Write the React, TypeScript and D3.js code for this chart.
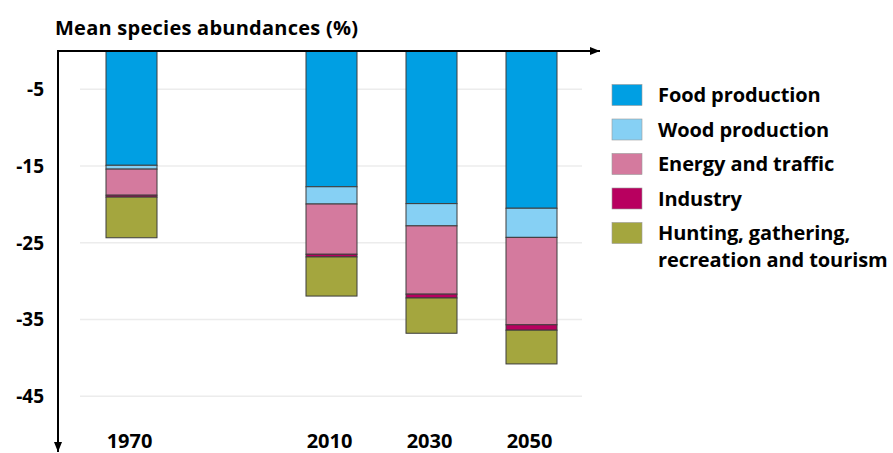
import React, { useEffect, useRef } from 'react';
import * as d3 from 'd3';

// years on a linear time axis
const years = [1970, 2010, 2030, 2050];

// change in mean species abundance by pressure (%)
const foodProduction = [-14.9, -17.7, -19.9, -20.5];
const woodProduction = [-0.5, -2.25, -2.9, -3.8];
const energyTraffic = [-3.4, -6.55, -8.9, -11.4];
const industry = [-0.25, -0.35, -0.5, -0.7];
const hunting = [-5.3, -5.1, -4.6, -4.4];

const seriesNames = [
  'Food production',
  'Wood production',
  'Energy and traffic',
  'Industry',
  'Hunting, gathering, recreation and tourism',
];
const seriesColors = ['#009fe3', '#86d0f4', '#d47a9e', '#b8005f', '#a4a63e'];
const yTicks = [-5, -15, -25, -35, -45];

const App: React.FC = () => {
  const svgRef = useRef<SVGSVGElement | null>(null);

  useEffect(() => {
    if (!svgRef.current) return;
    const width = 893;
    const height = 453;
    const font = '"Open Sans", Lato, sans-serif';
    const fontSize = 20;

    const svg = d3.select(svgRef.current)
      .attr('width', width)
      .attr('height', height);
    svg.selectAll('*').remove();

    const all = [foodProduction, woodProduction, energyTraffic, industry, hunting];
    const rows = years.map((year, i) => {
      const row: Record<string, number> = { year };
      seriesNames.forEach((name, s) => { row[name] = all[s][i]; });
      return row;
    });

    const stack = d3.stack<Record<string, number>>()
      .keys(seriesNames)
      .offset(d3.stackOffsetDiverging);
    const layers = stack(rows);

    const x = d3.scaleLinear().domain([1970, 2050]).range([131.5, 531.5]);
    const y = d3.scaleLinear().domain([0, -50]).range([51, 434.5]);
    const barWidth = 51;
    const axisX = 58;

    // gridlines
    svg.append('g')
      .selectAll('line')
      .data(yTicks)
      .join('line')
      .attr('x1', 80)
      .attr('x2', 582)
      .attr('y1', d => y(d))
      .attr('y2', d => y(d))
      .attr('stroke', '#ececec')
      .attr('stroke-width', 1.5);

    // stacked bars (negative values: d[0] is the lower edge)
    svg.append('g')
      .selectAll('g')
      .data(layers)
      .join('g')
      .attr('fill', (_, i) => seriesColors[i])
      .selectAll('rect')
      .data(d => d)
      .join('rect')
      .attr('x', d => x(d.data.year) - barWidth / 2)
      .attr('y', d => Math.min(y(d[0]), y(d[1])))
      .attr('width', barWidth)
      .attr('height', d => Math.abs(y(d[1]) - y(d[0])))
      .attr('stroke', '#3c3c3c')
      .attr('stroke-width', 1);

    // axes with arrows
    const defs = svg.append('defs');
    defs.append('marker')
      .attr('id', 'arrow')
      .attr('viewBox', '0 0 10 10')
      .attr('refX', 10)
      .attr('refY', 5)
      .attr('markerWidth', 10)
      .attr('markerHeight', 10)
      .attr('markerUnits', 'userSpaceOnUse')
      .attr('orient', 'auto')
      .append('path')
      .attr('d', 'M0,1 L10,5 L0,9 Z')
      .attr('fill', '#000');

    svg.append('line')
      .attr('x1', axisX - 1)
      .attr('x2', 600)
      .attr('y1', y(0))
      .attr('y2', y(0))
      .attr('stroke', '#000')
      .attr('stroke-width', 2)
      .attr('marker-end', 'url(#arrow)');
    svg.append('line')
      .attr('x1', axisX)
      .attr('x2', axisX)
      .attr('y1', y(0) - 1)
      .attr('y2', 452)
      .attr('stroke', '#000')
      .attr('stroke-width', 2)
      .attr('marker-end', 'url(#arrow)');

    // y tick labels
    svg.append('g')
      .selectAll('text')
      .data(yTicks)
      .join('text')
      .attr('x', 44)
      .attr('y', d => y(d))
      .attr('dy', '0.36em')
      .attr('text-anchor', 'end')
      .attr('font-family', font)
      .attr('font-weight', 700)
      .attr('font-size', fontSize - 1)
      .text(d => d);

    // year labels
    svg.append('g')
      .selectAll('text')
      .data(years)
      .join('text')
      .attr('x', d => x(d) - 2)
      .attr('y', 448)
      .attr('text-anchor', 'middle')
      .attr('font-family', font)
      .attr('font-weight', 700)
      .attr('font-size', fontSize)
      .text(d => d);

    // title
    svg.append('text')
      .attr('x', 55)
      .attr('y', 35)
      .attr('font-family', font)
      .attr('font-weight', 700)
      .attr('font-size', fontSize)
      .attr('letter-spacing', 0.25)
      .text('Mean species abundances (%)');

    // legend
    const legend = svg.append('g').attr('transform', 'translate(612,95)');
    const item = legend.selectAll('g')
      .data(seriesNames)
      .join('g')
      .attr('transform', (_, i) => `translate(0,${i * 34.5})`);
    item.append('rect')
      .attr('x', 0)
      .attr('y', -10.5)
      .attr('width', 30)
      .attr('height', 21)
      .attr('fill', (_, i) => seriesColors[i])
      .attr('stroke', '#9a9a9a')
      .attr('stroke-width', 0.6);
    item.each(function (d) {
      const t = d3.select(this).append('text')
        .attr('font-family', font)
        .attr('font-weight', 700)
        .attr('font-size', fontSize)
        .attr('letter-spacing', -0.1);
      const lines = d === seriesNames[4]
        ? ['Hunting, gathering,', 'recreation and tourism']
        : [d];
      lines.forEach((l, k) => {
        t.append('tspan').attr('x', 46).attr('y', 7 + k * 27).text(l);
      });
    });
  }, []);

  return (
    <svg ref={svgRef} style={{ position: 'absolute', left: 0, top: 0, background: '#fff' }} />
  );
};

export default App;
